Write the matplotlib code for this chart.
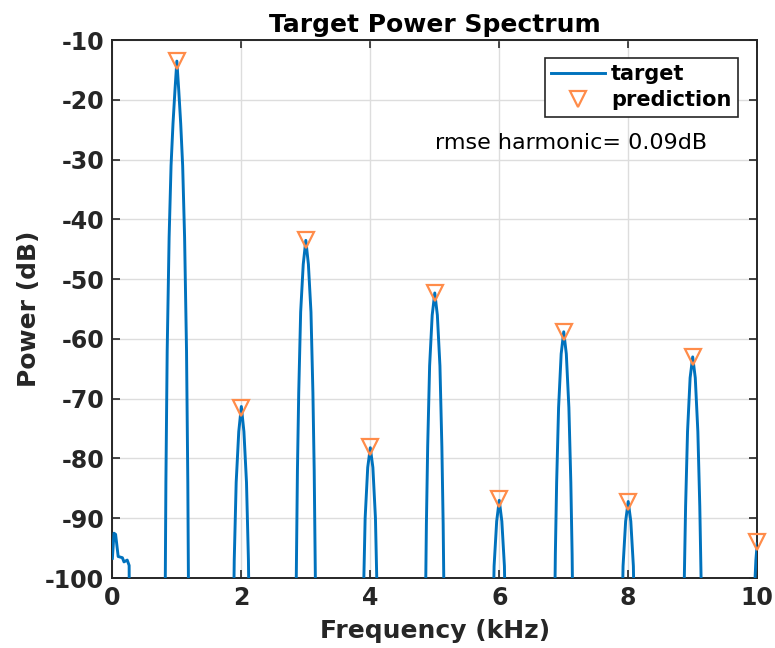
import numpy as np
import matplotlib
matplotlib.use("Agg")
import matplotlib.pyplot as plt

plt.rcParams['axes.unicode_minus'] = False

# target spectrum (kHz, dB); points below -100 are clipped
low_f = [0.0, 0.025, 0.05, 0.09, 0.155, 0.18, 0.23, 0.26, 0.27]
low_db = [-96.7, -92.5, -92.7, -96.4, -96.6, -97.3, -97.0, -97.9, -120]

lobe_f = [
    [0.815, 0.83, 0.85, 0.88, 0.91, 0.94, 0.97, 1.0, 1.03, 1.06, 1.09, 1.12, 1.15, 1.17, 1.185],
    [1.875, 1.89, 1.92, 1.96, 2.0, 2.04, 2.08, 2.11, 2.125],
    [2.84, 2.87, 2.89, 2.92, 2.96, 3.0, 3.04, 3.08, 3.11, 3.13, 3.16],
    [3.89, 3.92, 3.96, 4.0, 4.04, 4.08, 4.11],
    [4.85, 4.87, 4.89, 4.92, 4.96, 5.0, 5.04, 5.08, 5.11, 5.13, 5.15],
    [5.9, 5.92, 5.96, 6.0, 6.04, 6.08, 6.1],
    [6.855, 6.87, 6.89, 6.92, 6.96, 7.0, 7.04, 7.08, 7.11, 7.13, 7.145],
    [7.9, 7.92, 7.96, 8.0, 8.04, 8.08, 8.1],
    [8.855, 8.87, 8.89, 8.92, 8.96, 9.0, 9.04, 9.08, 9.11, 9.13, 9.145],
    [9.95, 9.98, 10.0],
]
lobe_db = [
    [-110, -84, -62, -43, -31, -24, -18.5, -13.5, -18.5, -24, -31, -43, -62, -84, -110],
    [-110, -97, -84, -75.5, -71.3, -75.5, -84, -97, -110],
    [-112, -82, -69, -55.5, -47.5, -43.5, -47.5, -55.5, -69, -82, -112],
    [-105, -90, -81.5, -78.2, -81.5, -90, -105],
    [-110, -91, -78, -64.5, -56, -52.3, -56, -64.5, -78, -91, -110],
    [-110, -98, -90.5, -87, -90.5, -98, -110],
    [-110, -96, -84, -71.5, -62.5, -58.8, -62.5, -71.5, -84, -96, -110],
    [-110, -98, -90.5, -87.2, -90.5, -98, -110],
    [-112, -100, -88, -75.5, -66.5, -63, -66.5, -75.5, -88, -100, -112],
    [-104, -97, -94.3],
]

# predicted harmonic powers
pred_f = [1, 2, 3, 4, 5, 6, 7, 8, 9, 10]
pred_db = [-13.5, -71.5, -43.5, -78.0, -52.3, -86.8, -58.8, -87.2, -63.0, -94.0]

rmse_db = 0.09

freq = np.concatenate([low_f] + lobe_f)
power = np.concatenate([low_db] + lobe_db)

fig = plt.figure(figsize=(7.75, 6.48), dpi=100)
ax = fig.add_axes([0.145, 0.108, 0.832, 0.830])

ax.plot(freq, power, color='#0072BD', linewidth=2.1, label='target', zorder=3)
ax.plot(pred_f, pred_db, linestyle='none', marker='v', markersize=11,
        markerfacecolor='none', markeredgecolor='#FF8C4A', markeredgewidth=1.6,
        label='prediction', zorder=4, clip_on=False)

ax.set_xlim(0, 10)
ax.set_ylim(-100, -10)
ax.set_xticks(np.arange(0, 11, 2))
ax.set_yticks(np.arange(-100, -9, 10))
ax.grid(True, color='#dddddd', linewidth=1.0)
ax.set_axisbelow(True)

ax.tick_params(direction='in', top=True, right=True, length=6, width=1.2,
               color='#262626', labelsize=17, labelcolor='#262626', pad=6)
for lbl in ax.get_xticklabels() + ax.get_yticklabels():
    lbl.set_fontweight('bold')
for spine in ax.spines.values():
    spine.set_linewidth(1.4)
    spine.set_color('#262626')

ax.set_xlabel('Frequency (kHz)', fontsize=18, fontweight='bold', color='#262626', labelpad=6)
ax.set_ylabel('Power (dB)', fontsize=18, fontweight='bold', color='#262626', labelpad=3)
ax.set_title('Target Power Spectrum', fontsize=18, fontweight='bold', pad=6)

leg = ax.legend(loc='upper right', bbox_to_anchor=(0.97, 0.967),
                prop={'weight': 'bold', 'size': 15}, fancybox=False, framealpha=1,
                edgecolor='#262626', borderpad=0.3, handlelength=2.6,
                handletextpad=0.3, labelspacing=0.3, borderaxespad=0)
leg.get_frame().set_linewidth(1.2)

ax.text(0.50, 0.809, f'rmse harmonic= {rmse_db:.2f}dB', transform=ax.transAxes,
        fontsize=16, va='center', ha='left')

fig.savefig('out.png', dpi=100)
